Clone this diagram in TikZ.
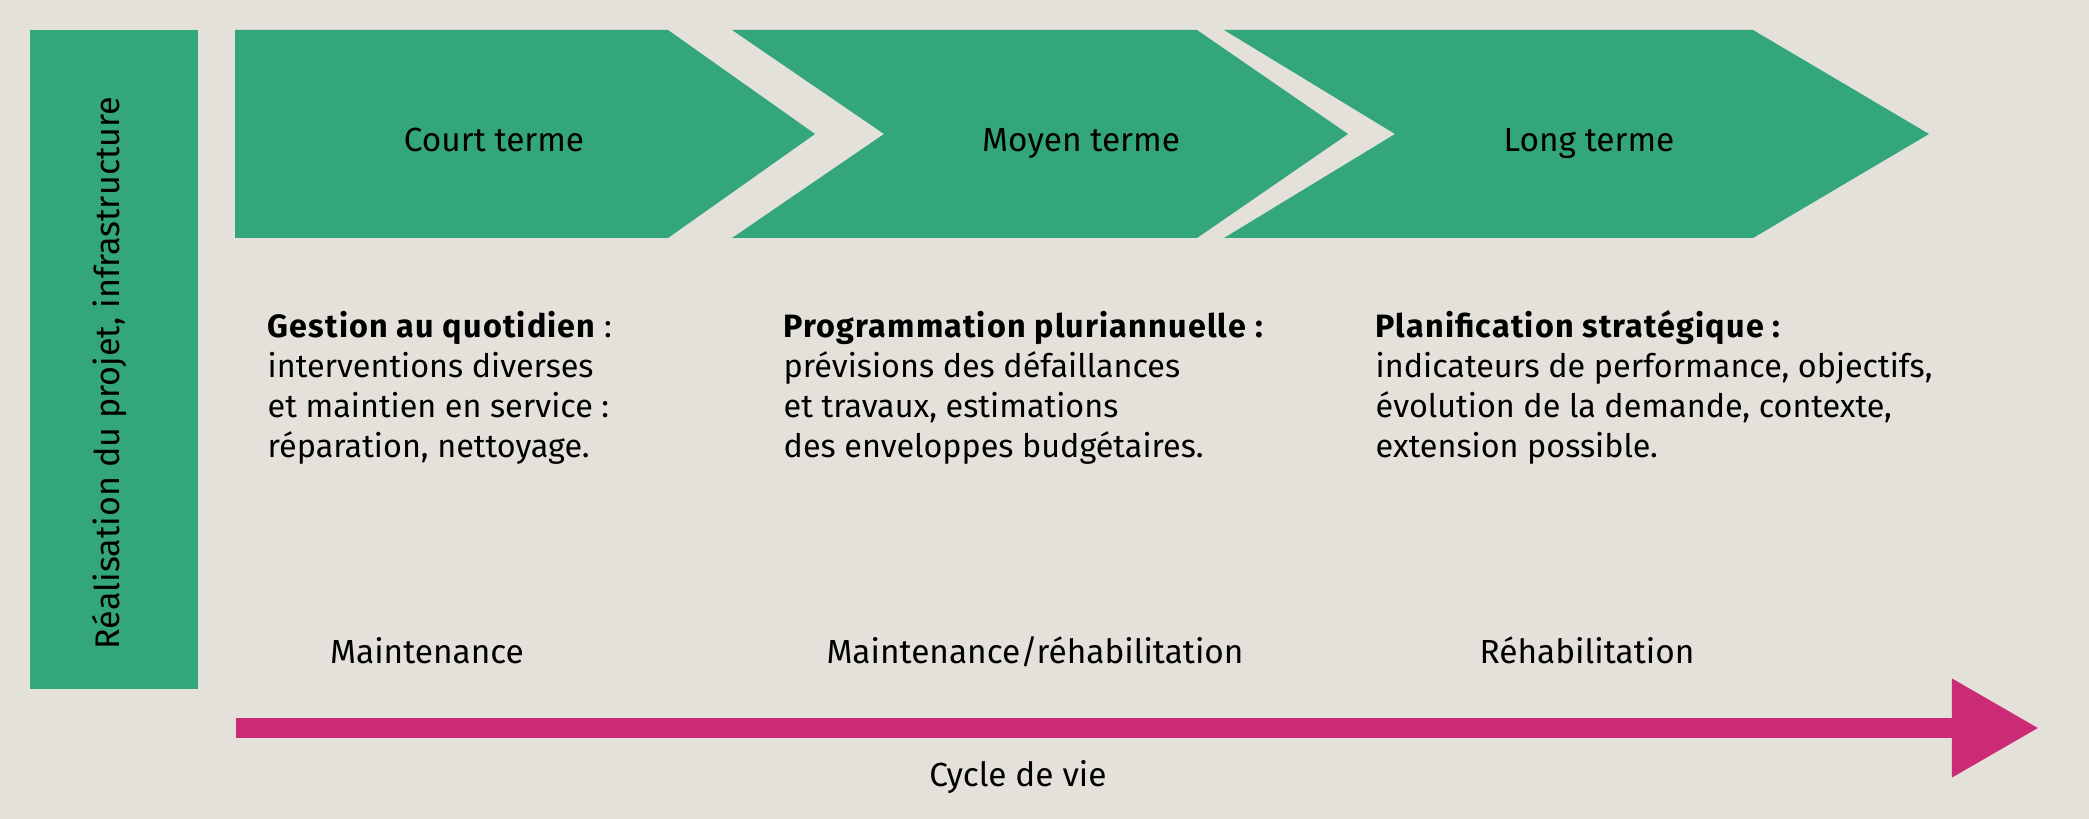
\documentclass[tikz,border=0pt]{standalone}
\usepackage{fontspec}
\setmainfont{Fira Sans}
\usetikzlibrary{arrows.meta}

\definecolor{bggrey}{RGB}{228,225,219}
\definecolor{termgreen}{RGB}{51,166,122}
\definecolor{lifepink}{RGB}{203,43,116}

\newcommand{\infohead}[1]{{\bfseries\addfontfeature{LetterSpace=3.5}#1}}

\begin{document}
\begin{tikzpicture}[x=0.01cm, y=-0.01cm,
    term/.style = {font=\fontsize{9.5}{11.45}\selectfont, anchor=base, inner sep=0},
    info/.style = {font=\fontsize{9.2}{11.45}\selectfont, align=left, anchor=base west, inner sep=0},
    side/.style = {font=\fontsize{9.7}{12}\selectfont, rotate=90, anchor=base, inner sep=0},
    life/.style = {draw=lifepink, line width=0.2cm, -{Triangle[length=0.87cm, width=0.93cm]}}]

    % background
    \fill[bggrey] (0,0) rectangle (2089,819);
    \useasboundingbox (0,0) rectangle (2089,819);

    % left bar
    \fill[termgreen] (30,30) rectangle (198,689);
    \node[side] (real) at (119,373) {Réalisation du projet, infrastructure};

    % the three terms
    \fill[termgreen] (235,30) -- (668,30) -- (815,134) -- (668,238) -- (235,238) -- cycle;
    \fill[termgreen] (732,30) -- (1197,30) -- (1348,134) -- (1197,238) -- (732,238) -- (884,134) -- cycle;
    \fill[termgreen] (1224,30) -- (1753,30) -- (1929,134) -- (1753,238) -- (1224,238) -- (1395,134) -- cycle;

    \node[term] (court) at (494,152) {Court terme};
    \node[term] (moyen) at (1081,152) {Moyen terme};
    \node[term] (long) at (1589,152) {Long terme};

    % base of an info node = its last line
    \node[info] (gestion) at (267,458) {\infohead{Gestion au quotidien} :\\
        interventions diverses\\ et maintien en service :\\ réparation, nettoyage.};
    \node[info] (progr) at (783,458) {\infohead{Programmation pluriannuelle :}\\
        prévisions des défaillances\\ et travaux, estimations\\ des enveloppes budgétaires.};
    \node[info] (planif) at (1375,458) {\infohead{Planification stratégique :}\\
        indicateurs de performance, objectifs,\\ évolution de la demande, contexte,\\ extension possible.};

    \node[term] (maint) at (427,663) {Maintenance};
    \node[term] (mixte) at (1035,663) {Maintenance/réhabilitation};
    \node[term] (rehab) at (1587,663) {Réhabilitation};

    % life cycle
    \coordinate (cyc-start) at (236,728);
    \coordinate (cyc-end) at (2039,728);
    \draw[life] (cyc-start) -- (cyc-end);
    \node[term] (cycle) at (1018,786) {Cycle de vie};

\end{tikzpicture}
\end{document}
